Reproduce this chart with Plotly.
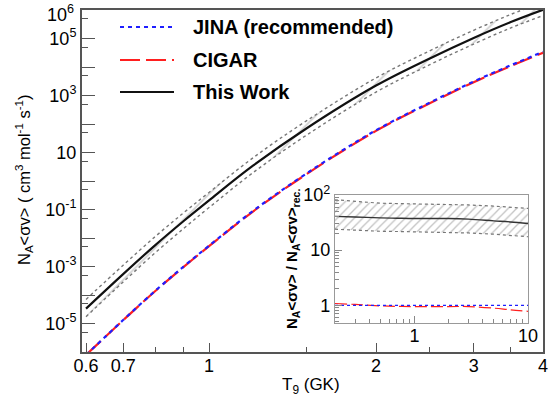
import plotly.graph_objects as go

# ---------------- data ----------------
T9 = [0.6, 0.7, 0.8, 0.9, 1.0, 1.2, 1.5, 2.0, 2.5, 3.0, 3.5, 4.0]
rate_jina = [7.9e-7, 1.32e-5, 1.41e-4, 1.0e-3, 5.37e-3, 8.9e-2, 1.86, 60.3, 562, 3090, 1.15e4, 3.39e4]
rate_cigar = [7.9e-7, 1.30e-5, 1.38e-4, 9.7e-4, 5.15e-3, 8.5e-2, 1.77, 57.3, 534, 2940, 1.08e4, 3.15e4]
rate_this = [3.33e-5, 5.41e-4, 5.65e-3, 3.95e-2, 0.209, 3.43, 70.8, 2230, 2.0e4, 1.05e5, 3.79e5, 1.02e6]
rate_this_hi = [7.0e-5, 1.11e-3, 1.13e-2, 7.7e-2, 0.397, 6.5, 131, 4130, 3.7e4, 1.94e5, 7.0e5, 1.89e6]
rate_this_lo = [1.73e-5, 2.87e-4, 3.05e-3, 2.17e-2, 0.117, 1.96, 41.1, 1316, 1.2e4, 6.4e4, 2.35e5, 6.4e5]

T9_inset = [0.2, 0.3, 0.5, 0.7, 1.0, 2.0, 3.0, 5.0, 7.0, 10.0]
ratio_jina = [1, 1, 1, 1, 1, 1, 1, 1, 1, 1]
ratio_cigar = [1.08, 1.04, 0.98, 0.96, 0.95, 0.95, 0.95, 0.89, 0.83, 0.78]
ratio_this = [41, 40, 38.5, 38, 37.5, 37.5, 36.5, 34, 32.5, 30.5]
ratio_this_hi = [82, 76, 71, 70, 69, 68, 66, 63, 60, 57]
ratio_this_lo = [24, 23, 22, 21.8, 21.5, 21, 20.5, 19.5, 18.5, 17.5]

legend_labels = ["JINA (recommended)", "CIGAR", "This Work"]
x_tickvals = [0.6, 0.7, 1, 2, 3, 4]
x_ticktext = ["0.6", "0.7", "1", "2", "3", "4"]
y_exponents_labeled = [5, 3, 1, -1, -3, -5]   # 10^6 written separately at the top edge
y_top_label = "10<sup>6</sup>"

# ---------------- styling ----------------
FONT = "Liberation Sans, Arial, sans-serif"
AXC = "#555555"
BLUE = "#1f1fff"
RED = "#ff1f1f"

fig = go.Figure()

# main panel
fig.add_trace(go.Scatter(x=T9, y=rate_this_lo, mode="lines", line=dict(color="#777777", width=1.4, dash="dot", shape="spline"),
                         showlegend=False, xaxis="x", yaxis="y"))
fig.add_trace(go.Scatter(x=T9, y=rate_this_hi, mode="lines", line=dict(color="#777777", width=1.4, dash="dot", shape="spline"),
                         fill="tonexty", fillcolor="rgba(0,0,0,0)",
                         fillpattern=dict(shape="/", fgcolor="#a0a0a0", bgcolor="rgba(0,0,0,0)", size=20, solidity=0.08),
                         showlegend=False, xaxis="x", yaxis="y"))
fig.add_trace(go.Scatter(x=T9, y=rate_this, mode="lines", line=dict(color="#111111", width=2.2, shape="spline"),
                         name=legend_labels[2], showlegend=False, xaxis="x", yaxis="y"))
fig.add_trace(go.Scatter(x=T9, y=rate_cigar, mode="lines", line=dict(color=RED, width=2.2, dash="20px,6px", shape="spline"),
                         name=legend_labels[1], showlegend=False, xaxis="x", yaxis="y"))
fig.add_trace(go.Scatter(x=T9, y=rate_jina, mode="lines", line=dict(color=BLUE, width=2.2, dash="4px,4px", shape="spline"),
                         name=legend_labels[0], showlegend=False, xaxis="x", yaxis="y"))

# inset panel
fig.add_trace(go.Scatter(x=T9_inset, y=ratio_this_lo, mode="lines", line=dict(color="#777777", width=1.2, dash="dot"),
                         showlegend=False, xaxis="x2", yaxis="y2"))
fig.add_trace(go.Scatter(x=T9_inset, y=ratio_this_hi, mode="lines", line=dict(color="#777777", width=1.2, dash="dot"),
                         fill="tonexty", fillcolor="rgba(0,0,0,0)",
                         fillpattern=dict(shape="/", fgcolor="#888888", bgcolor="rgba(0,0,0,0)", size=6, solidity=0.22),
                         showlegend=False, xaxis="x2", yaxis="y2"))
fig.add_trace(go.Scatter(x=T9_inset, y=ratio_this, mode="lines", line=dict(color="#333333", width=1.4, shape="spline"),
                         showlegend=False, xaxis="x2", yaxis="y2"))
fig.add_trace(go.Scatter(x=T9_inset, y=ratio_cigar, mode="lines", line=dict(color=RED, width=1.2, dash="12px,4px", shape="spline"),
                         showlegend=False, xaxis="x2", yaxis="y2"))
fig.add_trace(go.Scatter(x=T9_inset, y=ratio_jina, mode="lines", line=dict(color=BLUE, width=1.2, dash="3px,3px"),
                         showlegend=False, xaxis="x2", yaxis="y2"))

# y ticks main
y_tickvals = [10.0 ** k for k in range(-6, 7)]
y_ticktext = []
for k in range(-6, 7):
    if k in y_exponents_labeled:
        y_ticktext.append("10" if k == 1 else "10<sup>%d</sup>" % k)
    else:
        y_ticktext.append("")
y_minor = [5 * 10.0 ** k for k in range(-7, 6)]

W, H = 556, 402
def px(x):
    return x / W
def py(y):
    return 1 - y / H

tickfont = dict(family=FONT, size=18, color="#000000")

fig.update_layout(
    width=W, height=H,
    margin=dict(l=0, r=0, t=0, b=0, autoexpand=False),
    paper_bgcolor="white", plot_bgcolor="white",
    showlegend=False,
    font=dict(family=FONT, color="#000000"),
    xaxis=dict(type="log", domain=[px(82), px(543)], range=[-0.2291, 0.6021], automargin=False,
               tickvals=x_tickvals, ticktext=x_ticktext, ticks="inside", ticklen=9, tickwidth=1.3,
               tickcolor=AXC, showline=True, linecolor=AXC, linewidth=2, mirror=True,
               showgrid=False, zeroline=False, tickfont=tickfont, anchor="y", ticklabelstandoff=-4,
               ticklabeloverflow="allow",
               minor=dict(tickvals=[0.8, 0.9, 1.5, 2.5, 3.5], ticks="inside", ticklen=5, tickcolor=AXC, showgrid=False)),
    yaxis=dict(type="log", domain=[py(352), py(10)], range=[-6, 6], automargin=False,
               tickvals=y_tickvals, ticktext=y_ticktext, ticks="inside", ticklen=13, tickwidth=1.3,
               tickcolor=AXC, showline=True, linecolor=AXC, linewidth=2, mirror=True,
               showgrid=False, zeroline=False, tickfont=tickfont, anchor="x", ticklabeloverflow="allow",
               minor=dict(tickvals=y_minor, ticks="inside", ticklen=6, tickcolor=AXC, showgrid=False)),
    xaxis2=dict(type="log", domain=[px(335), px(528)], range=[-0.69897, 1.0], automargin=False,
                tickvals=[1, 10], ticktext=["1", "10"], ticks="inside", ticklen=7, tickwidth=1,
                tickcolor="#888888", showline=True, linecolor="#999999", linewidth=1.2, mirror=True,
                showgrid=False, zeroline=False, tickfont=tickfont, anchor="y2", ticklabelstandoff=-4,
                ticklabeloverflow="allow",
                minor=dict(tickvals=[0.2, 0.3, 0.4, 0.5, 0.6, 0.7, 0.8, 0.9, 2, 3, 4, 5, 6, 7, 8, 9],
                           ticks="inside", ticklen=4, tickcolor="#888888", showgrid=False)),
    yaxis2=dict(type="log", domain=[py(323), py(195)], range=[-0.32, 2.0], automargin=False,
                tickvals=[1, 10, 100], ticktext=["1", "10", "10<sup>2</sup>"], ticks="inside", ticklen=7, tickwidth=1,
                tickcolor="#888888", showline=True, linecolor="#999999", linewidth=1.2, mirror=True,
                showgrid=False, zeroline=False, tickfont=tickfont, anchor="x2", ticklabeloverflow="allow",
                minor=dict(tickvals=[0.5, 0.6, 0.7, 0.8, 0.9, 2, 3, 4, 5, 6, 7, 8, 9, 20, 30, 40, 50, 60, 70, 80, 90],
                           ticks="inside", ticklen=4, tickcolor="#888888", showgrid=False)),
)

# top y label (kept inside the canvas, as in the reference)
fig.add_annotation(xref="paper", yref="paper", x=px(76), y=py(0), text=y_top_label,
                   showarrow=False, xanchor="right", yanchor="top",
                   font=tickfont)

# legend drawn by hand (samples + labels)
leg_rows = [(27, BLUE, "4px,4px", 2.2), (60, RED, "20px,6px", 2.2), (92, "#111111", "solid", 2.2)]
for (yy, col, dash, w), lab in zip(leg_rows, legend_labels):
    fig.add_shape(type="line", xref="paper", yref="paper", x0=px(120), x1=px(174), y0=py(yy), y1=py(yy),
                  line=dict(color=col, width=w, dash=dash))
    fig.add_annotation(xref="paper", yref="paper", x=px(191), y=py(yy), text="<b>%s</b>" % lab,
                       showarrow=False, xanchor="left", yanchor="middle",
                       font=dict(family=FONT, size=20, color="#000000"))

# axis titles
fig.add_annotation(xref="paper", yref="paper", x=px(311), y=py(386),
                   text="T<sub>9</sub> (GK)", showarrow=False, xanchor="center", yanchor="middle",
                   font=dict(family=FONT, size=17, color="#000000"))
fig.add_annotation(xref="paper", yref="paper", x=px(24), y=py(180),
                   text="N<sub>A</sub>&lt;σv&gt; ( cm<sup>3</sup> mol<sup>-1</sup> s<sup>-1</sup>)",
                   textangle=-90, showarrow=False, xanchor="center", yanchor="middle",
                   font=dict(family=FONT, size=16.5, color="#000000"))
fig.add_annotation(xref="paper", yref="paper", x=px(292), y=py(259),
                   text="<b>N<sub>A</sub>&lt;σv&gt; / N<sub>A</sub>&lt;σv&gt;<sub>rec.</sub></b>",
                   textangle=-90, showarrow=False, xanchor="center", yanchor="middle",
                   font=dict(family=FONT, size=15, color="#000000"))

fig.write_html("out.html", config={"displayModeBar": False},
               post_script="document.body.style.margin='0';document.body.style.padding='0';")
